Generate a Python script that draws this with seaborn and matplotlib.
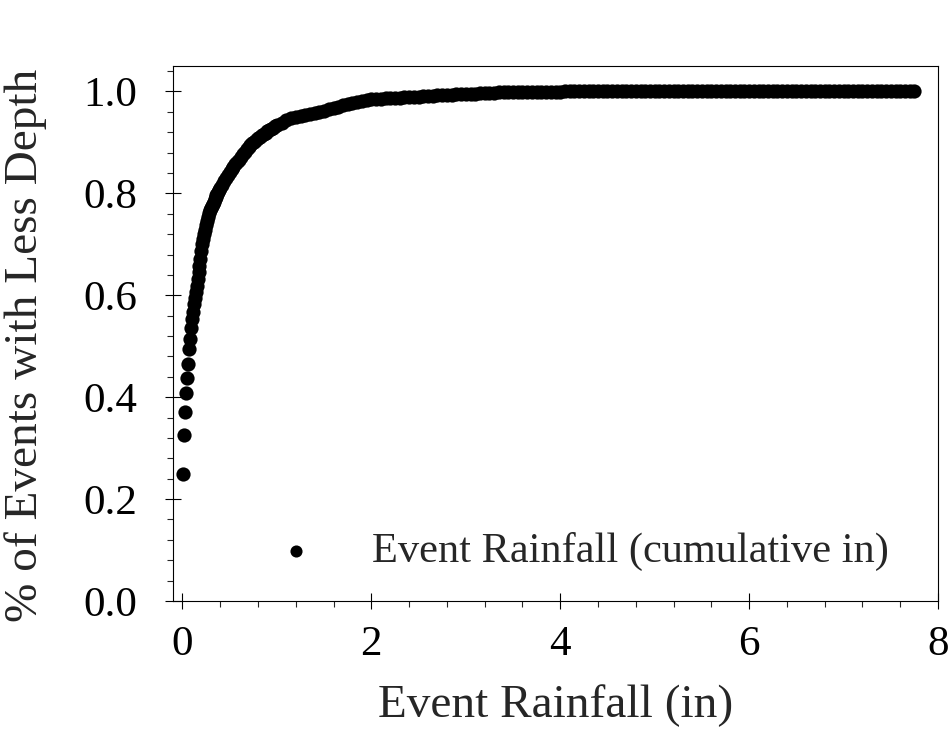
import matplotlib
matplotlib.use("Agg")
import matplotlib.pyplot as plt
from matplotlib.ticker import MultipleLocator, FormatStrFormatter
import seaborn as sns
import pandas as pd

# ---- data ----
depth_low = [0.01, 0.02, 0.03, 0.04, 0.05, 0.06, 0.07, 0.08, 0.09, 0.10,
             0.11, 0.12, 0.13, 0.14, 0.15, 0.16, 0.17, 0.18, 0.19, 0.20,
             0.21, 0.22, 0.23, 0.24, 0.25, 0.26, 0.27, 0.28, 0.29, 0.30,
             0.31, 0.32, 0.33, 0.34, 0.35, 0.36, 0.37, 0.38, 0.39, 0.40,
             0.42, 0.44, 0.46, 0.48, 0.50, 0.52, 0.54, 0.56, 0.58, 0.60,
             0.62, 0.64, 0.66, 0.68, 0.70, 0.72, 0.74, 0.76, 0.78, 0.80,
             0.82, 0.84, 0.86, 0.88, 0.90, 0.92, 0.94, 0.96, 0.98, 1.00]
frac_low = [0.250, 0.326, 0.371, 0.408, 0.437, 0.466, 0.494, 0.515, 0.536, 0.554,
            0.568, 0.582, 0.595, 0.607, 0.619, 0.632, 0.645, 0.658, 0.672, 0.686,
            0.700, 0.710, 0.720, 0.729, 0.738, 0.746, 0.754, 0.761, 0.767, 0.772,
            0.776, 0.780, 0.784, 0.788, 0.792, 0.796, 0.799, 0.803, 0.806, 0.810,
            0.817, 0.824, 0.831, 0.837, 0.842, 0.847, 0.852, 0.857, 0.861, 0.866,
            0.872, 0.877, 0.882, 0.887, 0.892, 0.895, 0.898, 0.901, 0.905, 0.908,
            0.911, 0.914, 0.917, 0.919, 0.922, 0.924, 0.927, 0.929, 0.932, 0.934]

depth_high = [1.05, 1.10, 1.15, 1.20, 1.25, 1.30, 1.35, 1.40, 1.45, 1.50,
              1.55, 1.60, 1.65, 1.70, 1.75, 1.80, 1.85, 1.90, 1.95, 2.00,
              2.05, 2.10, 2.15, 2.20, 2.25, 2.30, 2.35, 2.40, 2.45, 2.50,
              2.55, 2.60, 2.65, 2.70, 2.75, 2.80, 2.85, 2.90, 2.95, 3.00,
              3.05, 3.10, 3.15, 3.20, 3.25, 3.30, 3.35, 3.40, 3.45, 3.50,
              3.55, 3.60, 3.65, 3.70, 3.75, 3.80, 3.85, 3.90, 3.95, 4.00,
              4.05, 4.10, 4.15, 4.20, 4.25, 4.30, 4.35, 4.40, 4.45, 4.50,
              4.55, 4.60, 4.65, 4.70, 4.75, 4.80, 4.85, 4.90, 4.95, 5.00,
              5.05, 5.10, 5.15, 5.20, 5.25, 5.30, 5.35, 5.40, 5.45, 5.50,
              5.55, 5.60, 5.65, 5.70, 5.75, 5.80, 5.85, 5.90, 5.95, 6.00,
              6.05, 6.10, 6.15, 6.20, 6.25, 6.30, 6.35, 6.40, 6.45, 6.50,
              6.55, 6.60, 6.65, 6.70, 6.75, 6.80, 6.85, 6.90, 6.95, 7.00,
              7.05, 7.10, 7.15, 7.20, 7.25, 7.30, 7.35, 7.40, 7.45, 7.50,
              7.55, 7.60, 7.65, 7.70, 7.75]
frac_high = [0.939, 0.944, 0.947, 0.950, 0.952, 0.954, 0.956, 0.958, 0.960, 0.962,
             0.965, 0.968, 0.970, 0.973, 0.975, 0.978, 0.980, 0.982, 0.984, 0.985,
             0.986, 0.986, 0.987, 0.987, 0.988, 0.988, 0.989, 0.989, 0.990, 0.990,
             0.991, 0.991, 0.992, 0.993, 0.993, 0.994, 0.994, 0.995, 0.995, 0.996,
             0.996, 0.996, 0.997, 0.997, 0.997, 0.997, 0.998, 0.998, 0.998, 0.998,
             0.999, 0.999, 0.999, 0.999, 0.999, 0.999, 0.999, 0.999, 0.999, 0.999,
             1.000, 1.000, 1.000, 1.000, 1.000, 1.000, 1.000, 1.000, 1.000, 1.000,
             1.000, 1.000, 1.000, 1.000, 1.000, 1.000, 1.000, 1.000, 1.000, 1.000,
             1.000, 1.000, 1.000, 1.000, 1.000, 1.000, 1.000, 1.000, 1.000, 1.000,
             1.000, 1.000, 1.000, 1.000, 1.000, 1.000, 1.000, 1.000, 1.000, 1.000,
             1.000, 1.000, 1.000, 1.000, 1.000, 1.000, 1.000, 1.000, 1.000, 1.000,
             1.000, 1.000, 1.000, 1.000, 1.000, 1.000, 1.000, 1.000, 1.000, 1.000,
             1.000, 1.000, 1.000, 1.000, 1.000, 1.000, 1.000, 1.000, 1.000, 1.000,
             1.000, 1.000, 1.000, 1.000, 1.000]

series_label = "Event Rainfall (cumulative in)"
x_label = "Event Rainfall (in)"
y_label = "% of Events with Less Depth"
x_ticks = [0, 2, 4, 6, 8]
y_ticks = [0.0, 0.2, 0.4, 0.6, 0.8, 1.0]

df = pd.DataFrame({"depth": depth_low + depth_high,
                   "frac": frac_low + frac_high})

# ---- style ----
sns.set_style("ticks")
plt.rcParams["font.family"] = ["Liberation Serif", "DejaVu Serif"]

fig = plt.figure(figsize=(9.52, 7.51), dpi=100)
ax = fig.add_axes([173 / 952, 1 - 601 / 751, (938 - 173) / 952, (601 - 66) / 751])

sns.scatterplot(data=df, x="depth", y="frac", ax=ax, color="black", s=105,
                linewidth=0, label=series_label, legend=True)

ax.set_xlim(-0.1, 8.0)
ax.set_ylim(0.0, 1.05)
ax.set_xticks(x_ticks)
ax.set_yticks(y_ticks)
ax.xaxis.set_minor_locator(MultipleLocator(0.4))
ax.yaxis.set_minor_locator(MultipleLocator(0.04))
ax.yaxis.set_major_formatter(FormatStrFormatter("%.1f"))
ax.xaxis.set_major_formatter(FormatStrFormatter("%d"))

ax.tick_params(which="major", direction="inout", length=11, width=0.8,
               labelsize=31, colors="black")
ax.tick_params(axis="x", which="major", pad=12)
ax.tick_params(axis="y", which="major", pad=20)
ax.tick_params(which="minor", direction="out", length=4, width=0.8)
for sp in ax.spines.values():
    sp.set_visible(True)
    sp.set_color("black")
    sp.set_linewidth(0.8)

ax.set_xlabel(x_label, fontsize=34)
ax.set_ylabel(y_label, fontsize=34)
ax.xaxis.set_label_coords(0.5, -0.155)
ax.yaxis.set_label_coords(-0.165, 0.478)

leg = ax.legend(loc="lower right", bbox_to_anchor=(0.958, 0.024), frameon=False,
                fontsize=30.5, markerscale=0.85, handletextpad=0.8,
                borderaxespad=0.0)

fig.savefig("out.png", dpi=100, facecolor="white")
